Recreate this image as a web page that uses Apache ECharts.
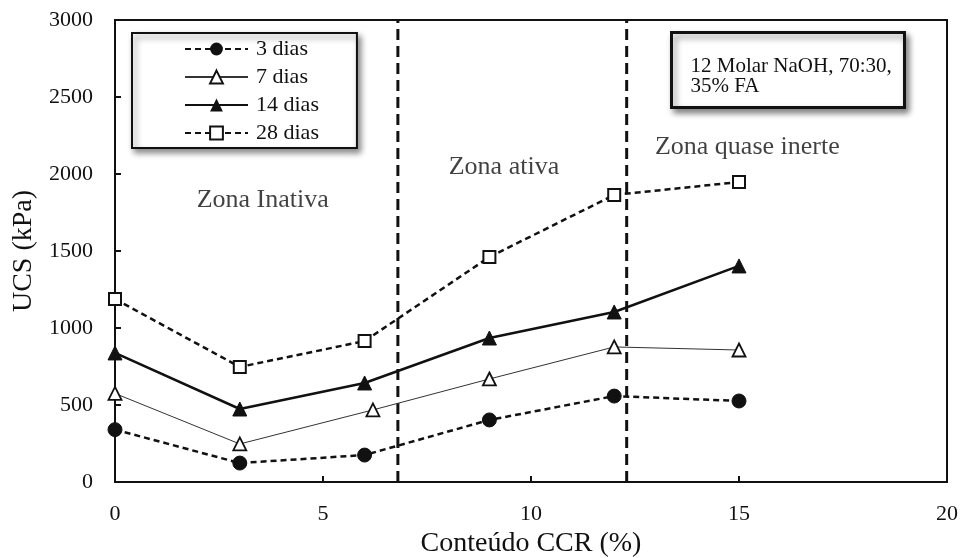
<!DOCTYPE html>
<html>
<head>
<meta charset="utf-8">
<script src="https://cdn.jsdelivr.net/npm/echarts@6/dist/echarts.min.js"></script>
<style>html,body{margin:0;padding:0;background:#fff;}#c{width:964px;height:558px;}</style>
</head>
<body>
<div id="c"></div>
<script>
// ---- data ----
const seriesNames = ['3 dias', '7 dias', '14 dias', '28 dias'];
const x3 = [0, 3, 6, 9, 12, 15];
const y3 = [340, 123, 175, 403, 558, 526];
const x7 = [0, 3, 6.2, 9, 12, 15];
const y7 = [575, 247, 468, 669, 877, 857];
const x14 = [0, 3, 6, 9, 12, 15];
const y14 = [838, 474, 643, 935, 1104, 1403];
const x28 = [0, 3, 6, 9, 12, 15];
const y28 = [1188, 747, 915, 1461, 1864, 1948];
const zoneBoundaries = [6.8, 12.3];
const zoneLabels = ['Zona Inativa', 'Zona ativa', 'Zona quase inerte'];
const zoneLabelX = [3.55, 9.35, 15.2];
const zoneLabelY = [1830, 2045, 2175];
const xTicks = [0, 5, 10, 15, 20];
const yTicks = [0, 500, 1000, 1500, 2000, 2500, 3000];
const noteLines = ['12 Molar NaOH, 70:30,', '35% FA'];

const pair = (xs, ys) => xs.map((v, i) => [v, ys[i]]);
const FONT = '"Liberation Serif", "DejaVu Serif", serif';
const INK = '#111';

const chart = echarts.init(document.getElementById('c'), null, {renderer: 'canvas'});

const zoneSeries = zoneBoundaries.map((b, i) => ({
  name: 'zone' + i, type: 'line', silent: true, symbol: 'none',
  data: [[b, yTicks[0]], [b, yTicks[yTicks.length - 1]]],
  lineStyle: {color: '#111', width: 3, type: [11, 6]}, z: 1
}));

chart.setOption({
  animation: false,
  backgroundColor: '#fff',
  grid: {left: 115, right: 17, top: 20, bottom: 76, containLabel: false, outerBoundsMode: 'none',
         show: true, borderColor: '#111', borderWidth: 2, backgroundColor: 'transparent'},
  xAxis: {
    type: 'value', min: xTicks[0], max: xTicks[xTicks.length - 1], interval: 5,
    name: 'Conteúdo CCR (%)', nameLocation: 'middle', nameGap: 47,
    nameTextStyle: {fontFamily: FONT, fontSize: 28, color: INK},
    axisLine: {lineStyle: {color: '#111', width: 2}},
    axisTick: {inside: true, length: 6, lineStyle: {color: '#111', width: 2}},
    axisLabel: {fontFamily: FONT, fontSize: 22, color: INK, margin: 21, formatter: v => String(v)},
    splitLine: {show: false}
  },
  yAxis: {
    type: 'value', min: yTicks[0], max: yTicks[yTicks.length - 1], interval: 500,
    name: 'UCS (kPa)', nameLocation: 'middle', nameGap: 67, nameRotate: 90,
    nameTextStyle: {fontFamily: FONT, fontSize: 28, color: INK},
    axisLine: {show: true, lineStyle: {color: '#111', width: 2}},
    axisTick: {show: true, inside: true, length: 6, lineStyle: {color: '#111', width: 2}},
    axisLabel: {fontFamily: FONT, fontSize: 22, color: INK, margin: 22, formatter: v => String(v)},
    splitLine: {show: false}
  },
  legend: {
    data: seriesNames, orient: 'vertical', left: 132, top: 33,
    padding: [5, 38, 4, 52], itemWidth: 63, itemHeight: 16, itemGap: 6,
    backgroundColor: '#fff', borderColor: '#111', borderWidth: 2, borderRadius: 0,
    shadowBlur: 6, shadowColor: 'rgba(0,0,0,0.45)', shadowOffsetX: 3, shadowOffsetY: 4,
    textStyle: {fontFamily: FONT, fontSize: 22, color: INK, lineHeight: 22, padding: [0, 0, 0, 3]},
    selectedMode: false
  },
  graphic: [{
    type: 'group', left: 670, top: 31,
    children: [
      {type: 'rect', shape: {x: 0, y: 0, width: 233, height: 75},
       style: {fill: '#fff', stroke: '#111', lineWidth: 3, shadowBlur: 6, shadowColor: 'rgba(0,0,0,0.45)', shadowOffsetX: 3, shadowOffsetY: 4}},
      {type: 'text', x: 19, y: 24,
       style: {text: noteLines.join('\n'), fontFamily: FONT, fontSize: 21, lineHeight: 20, fill: INK}}
    ]
  }],
  series: [
    ...zoneSeries,
    {name: seriesNames[0], type: 'line', data: pair(x3, y3), symbol: 'circle', symbolSize: 14,
     lineStyle: {color: '#111', width: 2.5, type: [6, 4]}, itemStyle: {color: '#111', borderColor: '#111'}, z: 3},
    {name: seriesNames[1], type: 'line', data: pair(x7, y7), symbol: 'triangle', symbolSize: 13,
     lineStyle: {color: '#333', width: 1}, itemStyle: {color: '#fff', borderColor: '#111', borderWidth: 1.8}, z: 3},
    {name: seriesNames[2], type: 'line', data: pair(x14, y14), symbol: 'triangle', symbolSize: 14,
     lineStyle: {color: '#111', width: 2.5}, itemStyle: {color: '#111', borderColor: '#111'}, z: 3},
    {name: seriesNames[3], type: 'line', data: pair(x28, y28), symbol: 'rect', symbolSize: 12,
     lineStyle: {color: '#111', width: 2.5, type: [6, 4]}, itemStyle: {color: '#fff', borderColor: '#111', borderWidth: 2}, z: 3},
    {name: 'zoneLabels', type: 'scatter', silent: true, symbolSize: 1, itemStyle: {color: 'transparent'},
     data: zoneLabels.map((t, i) => ({value: [zoneLabelX[i], zoneLabelY[i]], name: t})),
     label: {show: true, position: 'inside', formatter: p => p.name, fontFamily: FONT, fontSize: 26, color: INK}, z: 2}
  ]
});
</script>
</body>
</html>
